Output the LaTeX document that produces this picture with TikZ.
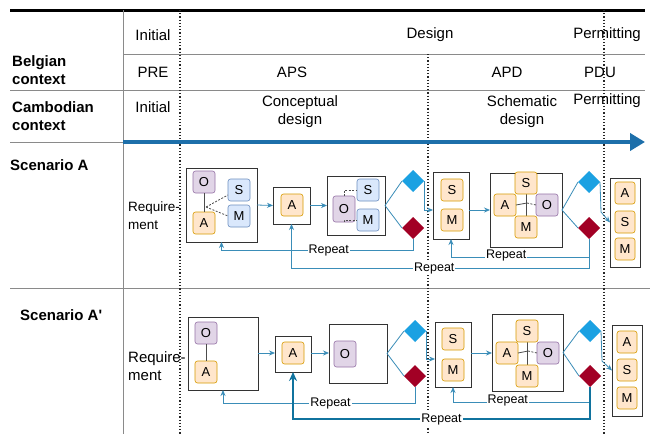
\documentclass[tikz,border=0pt]{standalone}
\usepackage{fontspec}
\setmainfont{Liberation Sans}
\usetikzlibrary{shapes.geometric,arrows.meta,calc}
\definecolor{ofill}{HTML}{FFE6CC}
\definecolor{odraw}{HTML}{D79B00}
\definecolor{pfill}{HTML}{E1D5E7}
\definecolor{pdraw}{HTML}{9673A6}
\definecolor{bfill}{HTML}{DAE8FC}
\definecolor{bdraw}{HTML}{6C8EBF}
\definecolor{dblue}{HTML}{1BA1E2}
\definecolor{dred}{HTML}{A20025}
\definecolor{conn}{HTML}{3A8DB8}
\definecolor{thickc}{HTML}{10739E}
\definecolor{hdr}{HTML}{1D6FAA}
\definecolor{grid}{HTML}{8A8A8A}
\tikzset{
 frame/.style={draw=black!80, line width=0.8pt, fill=white, inner sep=0pt, outer sep=0pt},
 sb/.style={rounded corners=2.5pt, line width=0.6pt, minimum width=22pt, minimum height=22pt, inner sep=0pt, outer sep=0pt, font=\fontsize{13}{13}\selectfont},
 ob/.style={sb, fill=ofill, draw=odraw},
 pb/.style={sb, fill=pfill, draw=pdraw},
 bb/.style={sb, fill=bfill, draw=bdraw},
 dia/.style={diamond, aspect=1, minimum width=22pt, minimum height=22pt, inner sep=0pt, outer sep=0pt},
 bd/.style={dia, fill=dblue},
 rd/.style={dia, fill=dred},
 cn/.style={draw=conn, line width=0.8pt},
 ar/.style={cn, -{Stealth[length=6pt,width=5pt]}},
 tar/.style={draw=thickc, line width=2.2pt, -{Stealth[length=9pt,width=8pt]}},
 rep/.style={fill=white, inner sep=1pt, font=\fontsize{12.5}{13}\selectfont},
 hd/.style={font=\fontsize{15}{18}\selectfont, align=center, inner sep=0pt},
 lb/.style={font=\fontsize{15}{18}\selectfont\bfseries, align=left, inner sep=0pt, anchor=west},
 gl/.style={draw=grid, line width=0.9pt},
 dl/.style={draw=black!85, line width=1.2pt, dash pattern=on 1.2pt off 2pt},
 inner/.style={draw=black!70, line width=0.8pt},
}
\begin{document}
\begin{tikzpicture}[x=1pt,y=-1pt]
\useasboundingbox[fill=white] (0,0) rectangle (652,434);
% grid
\draw[line width=3pt] (10,10) -- (645,10);
\draw[gl] (123,54) -- (645,54);
\draw[gl] (10,90) -- (645,90);
\draw[gl] (10,142) -- (123,142);
\draw[gl] (10,288) -- (650,288);
\draw[gl] (123,10) -- (123,434);
\draw[dl] (180,10) -- (180,434);
\draw[dl] (428,54) -- (428,434);
\draw[dl] (604,10) -- (604,434);
\coordinate (hs) at (123,142);
\coordinate (he) at (645,142);
\draw[hdr, line width=4pt, -{Triangle[length=15pt,width=17pt]}] (hs) -- (he);
% header text
\node[hd] (h1) at (153,35) {Initial};
\node[hd] (h2) at (430,35) {Design};
\node[hd] (h3) at (607,35) {Permitting};
\node[lb] (bl) at (12,70) {Belgian\\context};
\node[hd] (b1) at (153,72) {PRE};
\node[hd] (b2) at (292,72) {APS};
\node[hd] (b3) at (507,72) {APD};
\node[hd] (b4) at (600,72) {PDU};
\node[lb] (cl) at (12,116) {Cambodian\\context};
\node[hd] (c1) at (153,107) {Initial};
\node[hd] (c2) at (300,112) {Conceptual\\design};
\node[hd] (c3) at (522,112) {Schematic\\design};
\node[hd] (c4) at (607,101) {Permitting};
\node[lb] (sa) at (10,165) {Scenario A};
\node[lb] (sb2) at (20,315) {Scenario A\textquotesingle};
\node[hd, anchor=west, align=left, font=\fontsize{13.5}{18}\selectfont] (ra) at (128,216) {Require-\\ment};
\node[hd, anchor=west, align=left] (rb) at (128,366) {Require-\\ment};

% ===== Scenario A =====
\node[frame, minimum width=71pt, minimum height=74pt] (a1) at (221.5,205) {};
\node[pb] (a1o) at (204,182) {O};
\node[ob] (a1a) at (204,223) {A};
\node[bb] (a1s) at (239,190) {S};
\node[bb] (a1m) at (239,216) {M};
\draw[inner] (a1o) -- (a1a);
\coordinate (a1c) at (206,207);
\draw[inner, dashed, dash pattern=on 2pt off 1.5pt] (a1c) -- ([yshift=-5pt]a1s.west);
\draw[inner, dashed, dash pattern=on 2pt off 1.5pt] (a1c) -- (a1m.west);

\node[frame, minimum width=37pt, minimum height=37pt] (a2) at (291.5,205.5) {};
\node[ob] (a2a) at (292,205) {A};

\node[frame, minimum width=58pt, minimum height=59pt] (a3) at (356,205.5) {};
\node[pb, minimum height=26pt] (a3o) at (344,209) {O};
\node[bb] (a3s) at (368,190) {S};
\node[bb] (a3m) at (368,220) {M};
\draw[inner, dashed, dash pattern=on 2pt off 1.5pt] (a3o.north) |- (a3s.west);
\draw[inner, dashed, dash pattern=on 2pt off 1.5pt] (a3o.south) |- (a3m.west);

\node[bd] (abd1) at (413,181) {};
\node[rd] (ard1) at (413,228) {};

\node[frame, minimum width=36pt, minimum height=67pt] (a4) at (451,205.5) {};
\node[ob] (a4s) at (452,190) {S};
\node[ob] (a4m) at (452,220) {M};

\node[frame, minimum width=72pt, minimum height=74pt] (a5) at (526,210) {};
\draw[inner] (526,190) -- (526,220);
\node[ob] (a5s) at (526,183) {S};
\node[ob] (a5a) at (505,205) {A};
\node[pb] (a5o) at (547,205) {O};
\node[ob] (a5m) at (526,227) {M};
\coordinate (a5c) at (527,203);
\draw[inner] (a5a.east) -- (a5c);
\draw[inner, dashed, dash pattern=on 2pt off 1.5pt] (a5c) -- (a5o.west);

\node[bd] (abd2) at (589,182) {};
\node[rd] (ard2) at (589,228) {};

\node[frame, minimum width=30pt, minimum height=89pt] (a6) at (625,222.5) {};
\node[ob, minimum width=20pt] (a6a) at (625,193) {A};
\node[ob, minimum width=20pt] (a6s) at (625,222) {S};
\node[ob, minimum width=20pt] (a6m) at (625,249) {M};

\draw[ar] (a1.east) -- (a2.west);
\draw[ar] (a2.east) -- (a3.west);
\draw[cn] (a3.east) -- (abd1.west);
\draw[cn] (a3.east) -- (ard1.west);
\draw[ar] (abd1.east) |- ([yshift=-4.5pt]a4.west);
\draw[ar] (a4.east |- a5.west) -- (a5.west);
\draw[cn] (a5.east) -- (abd2.west);
\draw[cn] (a5.east) -- (ard2.west);
\draw[ar] (abd2.east) -- ++(1,30) -- (a6.west);
\draw[ar] (ard1.south) |- (a1.south |- 0,250) node[pos=0.72, rep] {Repeat} -- (a1.south);
\draw[ar] (ard2.south) |- (a2.south |- 0,268) node[pos=0.76, rep] {Repeat} -- (a2.south);
\draw[ar] (ard2.south) |- (a4.south |- 0,257) node[pos=0.8, rep, yshift=2pt] {Repeat} -- (a4.south);

% ===== Scenario A' =====
\node[frame, minimum width=70pt, minimum height=73pt] (b1) at (223,353.5) {};
\node[pb] (b1o) at (206,333) {O};
\node[ob] (b1a) at (206,372) {A};
\draw[inner] (b1o) -- (b1a);

\node[frame, minimum width=36pt, minimum height=36pt] (b2) at (293,354) {};
\node[ob] (b2a) at (293,353) {A};

\node[frame, minimum width=58pt, minimum height=59pt] (b3) at (358,353.5) {};
\node[pb, minimum height=26pt] (b3o) at (345,354) {O};

\node[bd] (bbd1) at (415,331) {};
\node[rd] (brd1) at (415,376) {};

\node[frame, minimum width=36pt, minimum height=65pt] (b4) at (453,354.5) {};
\node[ob] (b4s) at (453,339) {S};
\node[ob] (b4m) at (453,370) {M};

\node[frame, minimum width=71pt, minimum height=77pt] (b5) at (527.5,352.5) {};
\draw[inner] (527,338) -- (527,368);
\node[ob] (b5s) at (527,331) {S};
\node[ob] (b5a) at (507,353) {A};
\node[pb] (b5o) at (548,353) {O};
\node[ob] (b5m) at (527,376) {M};
\coordinate (b5c) at (528,351);
\draw[inner] (b5a.east) -- (b5c);
\draw[inner, dashed, dash pattern=on 2pt off 1.5pt] (b5c) -- (b5o.west);

\node[bd] (bbd2) at (590,331) {};
\node[rd] (brd2) at (590,376) {};

\node[frame, minimum width=30pt, minimum height=91pt] (b6) at (627,370.5) {};
\node[ob, minimum width=20pt] (b6a) at (627,342) {A};
\node[ob, minimum width=20pt] (b6s) at (627,370) {S};
\node[ob, minimum width=20pt] (b6m) at (627,398) {M};

\draw[ar] (b1.east |- b2a) -- (b2.west |- b2a);
\draw[ar] (b2.east |- b2a) -- (b3.west |- b2a);
\draw[cn] (b3.east) -- (bbd1.west);
\draw[cn] (b3.east) -- (brd1.west);
\draw[ar] (bbd1.east) |- ([yshift=-4.5pt]b4.west);
\draw[ar] (b4.east |- b2a) -- (b5.west |- b2a);
\draw[cn] (b5.east) -- (bbd2.west);
\draw[cn] (b5.east) -- (brd2.west);
\draw[ar] (bbd2.east) -- ++(1,30) -- (b6.west);
\draw[ar] (brd1.south) |- (b1.south |- 0,403) node[pos=0.72, rep] {Repeat} -- (b1.south);
\draw[ar] (brd2.south) |- (b4.south |- 0,402) node[pos=0.8, rep, yshift=2pt] {Repeat} -- (b4.south);
\draw[tar] (brd2.south) |- (b2.south |- 0,419) node[pos=0.75, rep] {Repeat} -- (b2.south);
\end{tikzpicture}
\end{document}
